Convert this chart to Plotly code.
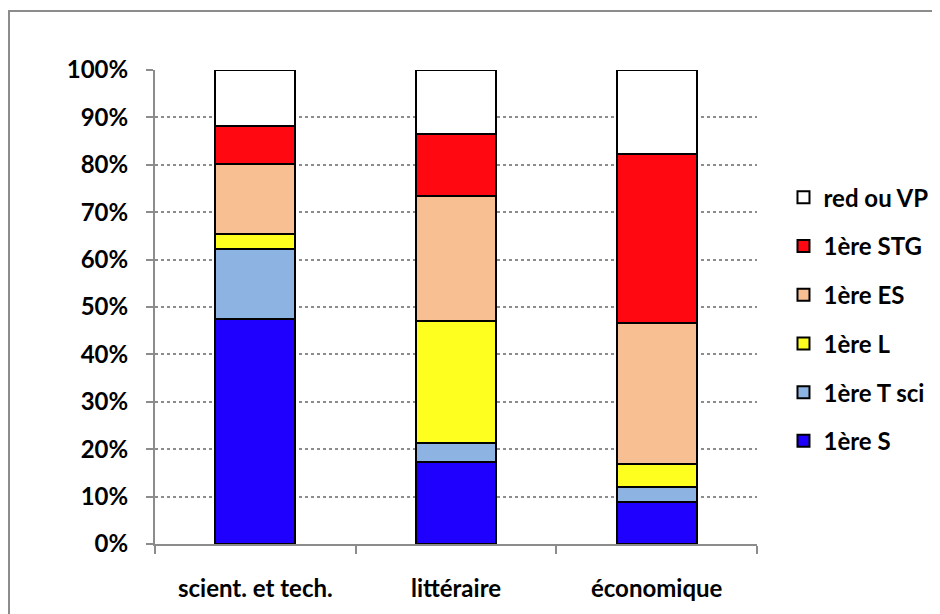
import plotly.graph_objects as go

categories = ["scient. et tech.", "littéraire", "économique"]
series_names = ["1ère S", "1ère T sci", "1ère L", "1ère ES", "1ère STG", "red ou VP"]
s_vals = [47.5, 17.4, 8.9]
tsci_vals = [14.8, 3.9, 3.1]
l_vals = [3.0, 25.7, 4.9]
es_vals = [14.8, 26.4, 29.7]
stg_vals = [8.1, 13.2, 35.6]
red_vals = [11.8, 13.4, 17.8]
colors = ["#1F00FF", "#8DB3E2", "#FFFF1F", "#F8BF93", "#FF0812", "#FFFFFF"]
y_ticks = [0, 10, 20, 30, 40, 50, 60, 70, 80, 90, 100]

all_vals = [s_vals, tsci_vals, l_vals, es_vals, stg_vals, red_vals]
totals = [sum(v[i] for v in all_vals) for i in range(len(categories))]

FONT = "Lato"
FS = 24
fig = go.Figure()
n = len(series_names)
for i, (name, vals, col) in enumerate(zip(series_names, all_vals, colors)):
    fig.add_trace(go.Bar(
        x=categories,
        y=[v / t * 100 for v, t in zip(vals, totals)],
        name=name,
        legendgroup=name,
        legendrank=n - i,
        marker=dict(color=col, line=dict(color="#000000", width=2)),
    ))

# page body has an 8px margin: compensate so the plot lands where the reference has it
L, T, W, H = 147, 62, 602, 474
fig.update_layout(
    barmode="stack",
    bargap=0.6,
    width=940, height=614,
    margin=dict(l=L, r=940 - L - W, t=T, b=614 - T - H),
    paper_bgcolor="white",
    plot_bgcolor="white",
    font=dict(family=FONT, size=FS, color="#000000"),
    showlegend=True,
    legend=dict(
        x=1.044, xanchor="left", y=0.778, yanchor="top",
        tracegroupgap=14.5,
        font=dict(family=FONT, size=FS, color="#000000", weight="bold"),
        bgcolor="rgba(0,0,0,0)",
    ),
    xaxis=dict(
        showline=True, linecolor="#8C8C8C", linewidth=2,
        ticks="outside", ticklen=8, tickwidth=2, tickcolor="#8C8C8C",
        tickson="boundaries",
        showgrid=False,
        tickfont=dict(family=FONT, size=FS, color="#000000", weight="bold"),
        ticklabelstandoff=22,
        range=[-0.5, 2.5],
    ),
    yaxis=dict(
        range=[0, 100],
        tickvals=y_ticks,
        ticktext=[f"{v}%" for v in y_ticks],
        showline=True, linecolor="#8C8C8C", linewidth=2,
        ticks="outside", ticklen=7, tickwidth=2, tickcolor="#8C8C8C",
        showgrid=True, gridcolor="#8C8C8C", gridwidth=2, griddash="dot",
        zeroline=False,
        tickfont=dict(family=FONT, size=FS, color="#000000", weight="bold"),
        ticklabelstandoff=13,
    ),
    shapes=[dict(
        type="rect", xref="paper", yref="paper",
        x0=(1 - L) / W, x1=(960 - L) / W,
        y0=-(640 - T - H) / H, y1=1 + (T - 3) / H,
        line=dict(color="#8C8C8C", width=2), fillcolor="rgba(0,0,0,0)",
        layer="below",
    )],
)

fig.write_html("out.html")
